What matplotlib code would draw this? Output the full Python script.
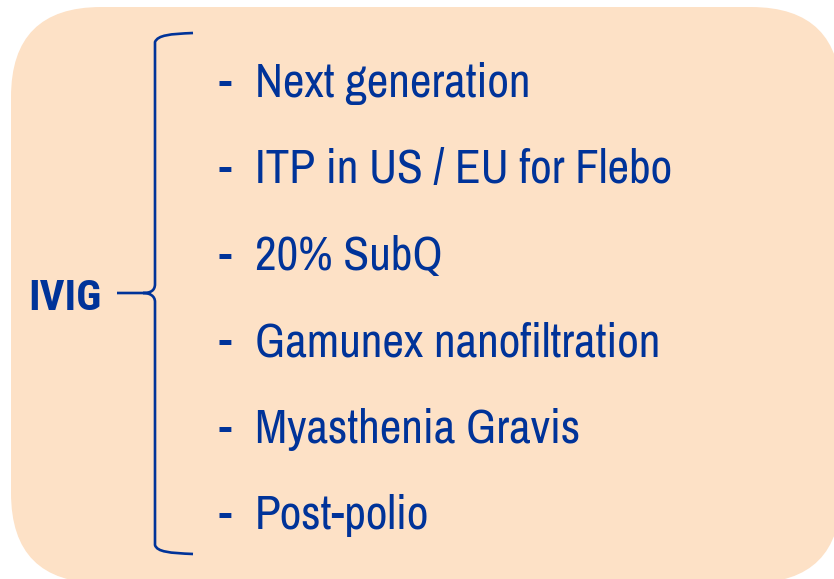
import matplotlib
matplotlib.use("Agg")
import matplotlib.pyplot as plt
from matplotlib.patches import FancyBboxPatch, PathPatch
from matplotlib.path import Path

group_label = "IVIG"
items = [
    "Next generation",
    "ITP in US / EU for Flebo",
    "20% SubQ",
    "Gamunex nanofiltration",
    "Myasthenia Gravis",
    "Post-polio",
]

BG = "#FDE1C6"
BLUE = "#003399"
FONT = ["Archivo Narrow", "Roboto Condensed", "Liberation Sans", "DejaVu Sans"]
BOLD_FONT = ["Roboto Condensed", "Liberation Sans", "DejaVu Sans"]

W, H = 834, 579
fig = plt.figure(figsize=(W / 100, H / 100), dpi=100)
ax = fig.add_axes([0, 0, 1, 1])
ax.set_xlim(0, W)
ax.set_ylim(H, 0)
ax.axis("off")

box = FancyBboxPatch((11, 7), 830, 576,
                     boxstyle="round,pad=0,rounding_size=90",
                     facecolor=BG, edgecolor="none")
ax.add_patch(box)

# brace
verts = [
    (193, 33), (170, 34), (158, 35), (155, 42),
    (155, 284),
    (155, 291), (150, 293), (143, 293),
    (117, 293),
    (143, 293),
    (150, 293), (155, 296), (155, 302),
    (155, 545),
    (157, 552), (170, 553), (193, 554),
]
codes = [Path.MOVETO, Path.CURVE4, Path.CURVE4, Path.CURVE4,
         Path.LINETO,
         Path.CURVE4, Path.CURVE4, Path.CURVE4,
         Path.LINETO,
         Path.MOVETO,
         Path.CURVE4, Path.CURVE4, Path.CURVE4,
         Path.LINETO,
         Path.CURVE4, Path.CURVE4, Path.CURVE4]
ax.add_patch(PathPatch(Path(verts, codes), facecolor="none",
                       edgecolor=BLUE, lw=1.9, capstyle="butt",
                       joinstyle="round"))

ax.text(28, 310, group_label, color=BLUE, fontsize=31, fontweight="bold",
        family=BOLD_FONT, va="baseline", ha="left")

y0, step = 97, 86.4
for i, it in enumerate(items):
    y = y0 + i * step
    ax.text(219, y, "-", color=BLUE, fontsize=34, family=FONT,
            fontstretch="condensed", va="baseline", ha="left")
    ax.text(255, y, it, color=BLUE, fontsize=34, family=FONT,
            fontstretch="condensed", va="baseline", ha="left")

fig.savefig("out.png", dpi=100)
